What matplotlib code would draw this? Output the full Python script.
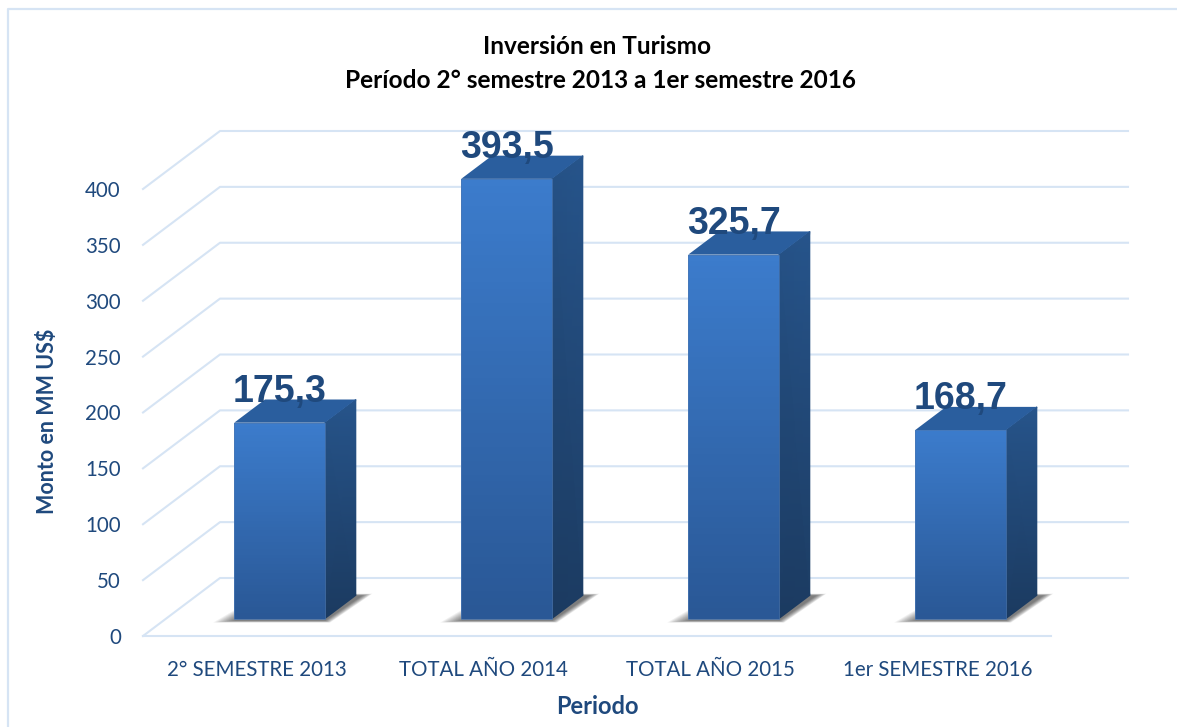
"""Inversion en Turismo: pseudo-3D column chart drawn on a flat matplotlib axes."""
import matplotlib

matplotlib.use("Agg")
import matplotlib.pyplot as plt
import numpy as np
from matplotlib.colors import LinearSegmentedColormap
from matplotlib.patches import Polygon, Rectangle

categories = ["2° SEMESTRE 2013", "TOTAL AÑO 2014", "TOTAL AÑO 2015", "1er SEMESTRE 2016"]
values = [175.3, 393.5, 325.7, 168.7]
value_labels = ["175,3", "393,5", "325,7", "168,7"]
y_ticks = [0, 50, 100, 150, 200, 250, 300, 350, 400]

W, H = 1177, 727
TEXT = "#1F497D"
GRID = "#D6E4F4"

# depth of the floor in data units (x in categories, y in MM US$)
DEPTH_X = 77 / 227
DEPTH_Y = 58 / 1.1175
BAR_W = 0.40
BAR_D0, BAR_D1 = 0.30, 0.70

plt.rcParams["font.family"] = ["Lato", "DejaVu Sans"]

front = LinearSegmentedColormap.from_list("front", ["#2A5896", "#3C7CCC"])
side = LinearSegmentedColormap.from_list("side", ["#1B3A60", "#27558C"])


def proj(x, v, d):
    return x + d * DEPTH_X, v + d * DEPTH_Y


def quad(ax, corners, **kw):
    ax.add_patch(Polygon([proj(*c) for c in corners], closed=True, clip_on=False, **kw))


fig = plt.figure(figsize=(W / 100, H / 100), dpi=100)
ax = fig.add_axes([143 / W, 1 - 636 / H, 908 / W, 447 / H])
ax.set_xlim(-0.5, 3.5)
ax.set_ylim(0, 400)
ax.patch.set_alpha(0)
for s in ax.spines.values():
    s.set_visible(False)

# chart frame, open on the right and bottom
fig.add_artist(plt.Line2D([8 / W, 8 / W, 1], [0, 1 - 9 / H, 1 - 9 / H], color=GRID, lw=1.6))

# walls
for t in y_ticks:
    x0, y0 = proj(-0.5, t, 0)
    x1, y1 = proj(-0.5, t, 1)
    x2, _ = proj(3.5, t, 1)
    ax.plot([x0, x1, x2], [y0, y1, y1], color=GRID, lw=1.5, clip_on=False, zorder=1)
ax.plot([-0.5, 3.5], [0, 0], color=GRID, lw=1.5, clip_on=False, zorder=1)

for i, v in enumerate(values):
    l, r = i - BAR_W / 2, i + BAR_W / 2

    # soft floor shadow, stacked translucent layers
    for k in range(12):
        g = 0.0075 * (11 - k)
        quad(
            ax,
            [(l - g, -2.0, BAR_D0 - 0.03 + 0.003 * k), (r + g * 0.4, -2.0, BAR_D0 - 0.03 + 0.003 * k),
             (r + 0.03 + g * 0.4, 0, BAR_D1 + 0.03 - 0.003 * k), (l + 0.06 - g, 0, BAR_D1 + 0.03 - 0.003 * k)],
            facecolor="black", edgecolor="none", alpha=0.055, zorder=2,
        )

    # side face
    xa, ya = proj(r, 0, BAR_D0)
    xb, yb = proj(r, 0, BAR_D1)
    xs = np.array([[xa, xb], [xa, xb]])
    ys = np.array([[ya, yb], [ya + v, yb + v]])
    ax.pcolormesh(xs, ys, np.array([[0.0, 0.1], [0.85, 1.0]]), shading="gouraud", cmap=side,
                  vmin=0, vmax=1, clip_on=False, zorder=3)

    # top face
    quad(ax, [(l, v, BAR_D0), (r, v, BAR_D0), (r, v, BAR_D1), (l, v, BAR_D1)],
         facecolor="#2A5E9E", edgecolor="none", zorder=3)

    # front face
    xl, yb = proj(l, 0, BAR_D0)
    xr, yt = proj(r, v, BAR_D0)
    ax.imshow(np.linspace(1, 0, 64).reshape(-1, 1), cmap=front, extent=(xl, xr, yb, yt),
              aspect="auto", vmin=0, vmax=1, clip_on=False, zorder=4)
    ax.add_patch(Rectangle((xl, yb), xr - xl, yt - yb, fill=False, edgecolor="#4A78B4",
                           lw=0.5, clip_on=False, zorder=4))

    lx, ly = proj(i, v, BAR_D0)
    ax.annotate(value_labels[i], xy=(lx, ly), xytext=(0, 21 * 0.72), textcoords="offset points",
                ha="center", va="baseline", fontsize=27, fontweight="bold",
                family=["Liberation Sans"], color="#1F497D", zorder=6, annotation_clip=False)

ax.set_xlim(-0.5, 3.5)
ax.set_ylim(0, 400)

ax.set_yticks(y_ticks)
ax.set_xticks(range(len(categories)))
ax.set_xticklabels(categories)
ax.tick_params(axis="both", length=0, labelsize=14.8, labelcolor=TEXT)
ax.tick_params(axis="y", pad=16)
ax.tick_params(axis="x", pad=17)

fig.text(597 / W, 1 - 707 / H, "Periodo", ha="center", va="center", fontsize=17,
         fontweight="bold", color=TEXT)
fig.text(48 / W, 1 - 421 / H, "Monto en MM US$", ha="center", va="center", rotation=90,
         fontsize=15.5, fontweight="bold", color=TEXT)
fig.text(597 / W, 1 - 47 / H, "Inversión en Turismo", ha="center", va="center", fontsize=17.6,
         fontweight="bold", color="black")
fig.text(600 / W, 1 - 81 / H, "Período 2° semestre 2013 a 1er semestre 2016", ha="center",
         va="center", fontsize=17.6, fontweight="bold", color="black")

fig.savefig("out.png", dpi=100)
